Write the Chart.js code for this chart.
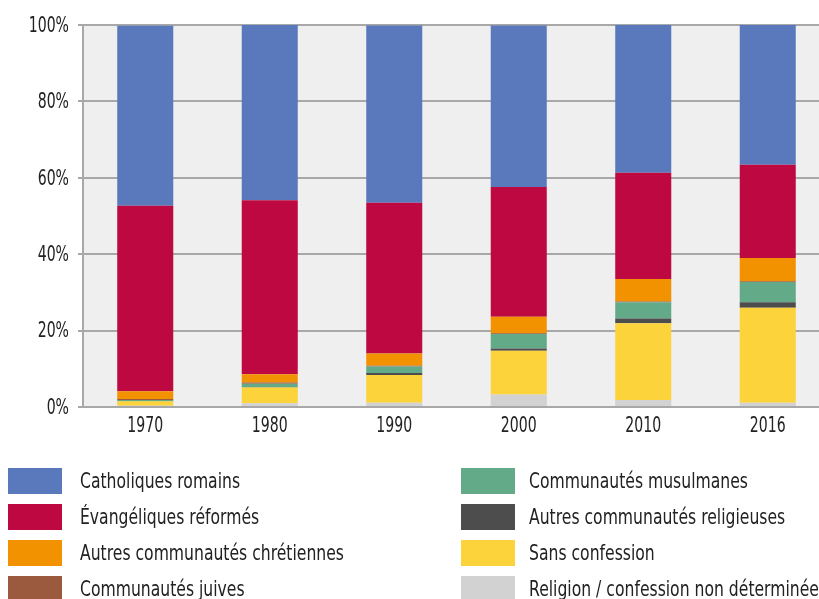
<!DOCTYPE html>
<html lang="fr">
<head>
<meta charset="utf-8">
<title>Appartenance religieuse 1970–2016</title>
<script src="https://cdn.jsdelivr.net/npm/chart.js@4/dist/chart.umd.min.js"></script>
<style>
    html, body { margin: 0; padding: 0; background: #fff; overflow: hidden; }
    body { width: 819px; height: 599px; position: relative; font-family: 'DejaVu Sans', sans-serif; }
    #chartWrap { position: absolute; left: 0; top: 0; width: 830px; height: 440px; }
    #legend { position: absolute; left: 0; top: 0; width: 819px; height: 599px; pointer-events: none; }
    .legend-item { position: absolute; left: 0; height: 26px; font-size: 22px; color: #222; white-space: nowrap; }
    .legend-swatch { position: absolute; top: 0; width: 54px; height: 26px; }
    /* no condensed face is installed, so squeeze the text horizontally */
    .legend-item span { position: absolute; top: 50%; transform-origin: left center; transform: translateY(-53%) scaleX(0.71); }
</style>
</head>
<body>
<div id="chartWrap"><canvas id="religionChart" width="830" height="440"></canvas></div>
<div id="legend"></div>

<script>
// Categories (census years)
const years = ['1970', '1980', '1990', '2000', '2010', '2016'];

// Shares in % (legend order, top of the stack first)
const catholiques = [47.1, 46.1, 46.4, 42.3, 38.7, 36.6];
const evangeliques = [48.6, 45.5, 39.5, 34.0, 27.8, 24.4];
const autresChretiennes = [2.0, 2.2, 3.2, 4.3, 5.9, 6.1];
const juives = [0.3, 0.3, 0.2, 0.2, 0.2, 0.2];
const musulmanes = [0.2, 0.9, 1.7, 3.8, 4.2, 5.3];
const autresReligieuses = [0.1, 0.1, 0.5, 0.6, 1.3, 1.4];
const sansConfession = [1.2, 4.1, 7.3, 11.4, 20.1, 24.9];
const nonDeterminee = [0.3, 1.0, 1.1, 3.3, 1.8, 1.1];

// Y axis tick labels
const yTicks = [0, 20, 40, 60, 80, 100];

const series = [
    { label: 'Catholiques romains', data: catholiques, color: '#5a79bd' },
    { label: 'Évangéliques réformés', data: evangeliques, color: '#be0841' },
    { label: 'Autres communautés chrétiennes', data: autresChretiennes, color: '#f39200' },
    { label: 'Communautés juives', data: juives, color: '#9b5a3e' },
    { label: 'Communautés musulmanes', data: musulmanes, color: '#63aa89' },
    { label: 'Autres communautés religieuses', data: autresReligieuses, color: '#4d4d4d' },
    { label: 'Sans confession', data: sansConfession, color: '#fdd33c' },
    { label: 'Religion / confession non déterminée', data: nonDeterminee, color: '#d2d2d2' }
];

const GRID = '#a8a8a8';
const TICK_FONT = "22px 'DejaVu Sans', sans-serif";
const SQUEEZE = 0.64;

const formatPercent = v => v + '%';

// Fill the plotting area with light grey before anything else is drawn
const plotBackground = {
    id: 'plotBackground',
    beforeDraw(chart) {
        const { ctx, chartArea } = chart;
        ctx.save();
        ctx.fillStyle = '#efefef';
        ctx.fillRect(chartArea.left, chartArea.top, chartArea.right - chartArea.left, chartArea.bottom - chartArea.top);
        ctx.restore();
    }
};

// Tick labels in a narrow look: the scales' own ticks, drawn squeezed
const condensedTicks = {
    id: 'condensedTicks',
    afterDraw(chart) {
        const { ctx } = chart;
        const xScale = chart.scales.x;
        const yScale = chart.scales.y;

        const put = (text, x, y, align) => {
            ctx.save();
            ctx.translate(x, y);
            ctx.scale(SQUEEZE, 1);
            ctx.textAlign = align;
            ctx.fillText(text, 0, 0);
            ctx.restore();
        };

        ctx.save();
        ctx.font = TICK_FONT;
        ctx.fillStyle = '#222';
        ctx.textBaseline = 'middle';
        yScale.ticks.forEach(t => {
            put(formatPercent(t.value), yScale.right - 14, yScale.getPixelForValue(t.value) + 1, 'right');
        });
        chart.data.labels.forEach((label, i) => {
            put(label, xScale.getPixelForTick(i), xScale.top + 19, 'center');
        });
        ctx.restore();
    }
};

function buildChart() {
    const ctx = document.getElementById('religionChart');

    // Chart.js stacks the first dataset at the bottom, so reverse legend order
    const datasets = series.slice().reverse().map(s => ({
        label: s.label,
        data: s.data,
        backgroundColor: s.color,
        borderWidth: 0,
        categoryPercentage: 1,
        barPercentage: 0.45
    }));

    new Chart(ctx.getContext('2d'), {
        type: 'bar',
        data: { labels: years, datasets: datasets },
        options: {
            responsive: false,
            animation: false,
            layout: { padding: { top: 25, left: 0, right: 0, bottom: 0 } },
            plugins: {
                legend: { display: false },
                tooltip: { enabled: false }
            },
            scales: {
                x: {
                    stacked: true,
                    grid: { display: false, drawTicks: false },
                    border: { display: true, color: GRID, width: 2 },
                    ticks: { display: false },
                    afterFit(scale) { scale.height = 33; }
                },
                y: {
                    stacked: true,
                    min: yTicks[0],
                    max: yTicks[yTicks.length - 1],
                    afterBuildTicks(scale) { scale.ticks = yTicks.map(v => ({ value: v })); },
                    grid: { color: GRID, lineWidth: 2, tickLength: 5 },
                    border: { display: true, color: GRID, width: 2 },
                    ticks: { display: false },
                    afterFit(scale) { scale.width = 83; }
                }
            }
        },
        plugins: [plotBackground, condensedTicks]
    });
}

// Two-column legend below the chart, in the reference's order
function buildLegend() {
    const legend = document.getElementById('legend');
    const rowTops = [468, 504, 540, 576];
    legend.innerHTML = series.map((s, i) => {
        const col = Math.floor(i / 4);
        const swatchLeft = col === 0 ? 8 : 461;
        const textLeft = col === 0 ? 80 : 529;
        return `
            <div class="legend-item" style="top:${rowTops[i % 4]}px;">
                <div class="legend-swatch" style="left:${swatchLeft}px;background:${s.color};"></div>
                <span style="left:${textLeft}px;">${s.label}</span>
            </div>`;
    }).join('');
}

buildChart();
buildLegend();
</script>
</body>
</html>
